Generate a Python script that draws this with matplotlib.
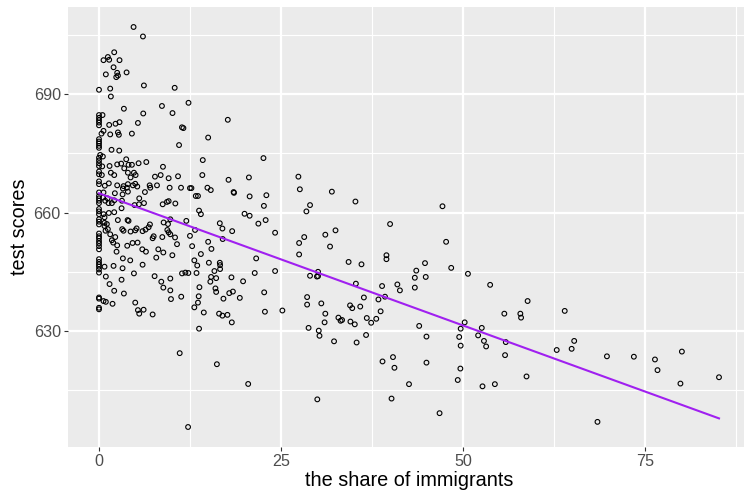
import numpy as np
import matplotlib
matplotlib.use("Agg")
import matplotlib.pyplot as plt
from matplotlib.ticker import FixedLocator

plt.rcParams['font.family'] = ['Liberation Sans', 'DejaVu Sans']

# share of immigrants (english learners, %)
english = [
    # left dense region, upper
    4.75, 6.04, 2.09, 1.22, 0.62, 1.40, 2.82, 2.00, 0.94, 3.79, 2.50, 2.60, 2.37, 0.0, 1.54,
    6.17, 10.4, 1.63, 3.42, 8.65, 6.08, 10.1, 0.0, 0.48, 0.0, 0.0, 0.0, 0.0, 1.40, 2.27,
    2.82, 5.35, 11.4, 11.6, 0.62, 0.34, 1.54, 2.60, 2.73, 4.52, 11.0, 0.0, 0.0, 0.0, 0.0,
    0.0, 1.72, 2.78, 0.16, 12.3,
    # x = 0 column, middle
    0.0, 0.0, 0.0, 0.0, 0.0, 0.0, 0.0, 0.0, 0.0, 0.0, 0.0, 0.0, 0.0, 0.0, 0.0,
    0.0, 0.0, 0.0, 0.0, 0.0, 0.0, 0.0, 0.0, 0.0, 0.0, 0.0, 0.0, 0.0, 0.0, 0.0,
    0.0, 0.0, 0.0,
    # left dense region, middle
    0.53, 0.44, 0.39, 0.80, 1.45, 1.63, 2.09, 2.50, 3.05, 3.74, 3.47, 3.97, 4.06, 4.52, 4.80,
    5.03, 4.34, 5.44, 6.50, 8.79, 7.69, 8.47, 9.57, 10.86, 1.35, 2.50, 3.37, 3.97, 3.83, 4.66,
    5.26, 4.98, 6.96, 7.05, 7.97, 9.71, 11.27, 3.28, 3.97, 6.31, 0.62, 0.53, 1.17, 0.85, 1.31,
    1.77, 2.18, 2.09, 3.24, 3.15, 4.89, 5.53, 5.49, 8.75, 9.34, 9.57, 10.49, 0.62, 0.76, 1.08,
    1.22, 1.35, 2.09, 3.10, 6.18, 2.59, 4.06, 3.93, 3.19, 3.37, 4.34, 4.98, 5.17, 5.99, 6.40,
    6.82, 7.00, 8.88, 9.48, 9.80, 9.39, 9.57, 9.80, 10.45, 10.72, 0.76, 0.76, 0.90, 1.54, 2.23,
    1.77, 1.95, 2.50, 2.41, 3.88, 4.61, 5.30, 5.95, 6.45, 7.37, 7.51, 8.70, 8.15, 8.84, 10.08,
    7.87, 3.28, 4.29, 5.99, 0.76, 2.00, 3.24, 4.80, 7.64, 0.94, 3.10, 1.45, 2.09, 3.42, 8.56,
    8.84, 9.80, 9.80, 11.41, 11.87,
    # left dense region, lower
    0.0, 0.0, 0.0, 0.62, 0.94, 1.86, 4.98, 5.35, 5.53, 6.13, 7.37, 9.89, 11.3, 11.09, 12.24,
    # 12-33 %, upper
    17.7, 15.0, 14.26, 22.6, 14.2, 17.8, 20.6, 27.4, 12.5, 12.7, 14.9, 15.36, 13.3, 13.6, 18.5,
    18.55, 20.7, 23.0, 27.6, 32.0, 22.66, 29.0, 28.5, 13.75, 14.0, 20.0, 20.7, 22.9, 21.9, 16.6,
    12.0,
    # 12-33 %, lower
    16.96, 18.3, 13.2, 12.5, 15.0, 17.0, 24.2, 12.8, 15.45, 14.0, 13.1, 13.5, 15.1, 16.6, 16.64,
    16.64, 15.86, 12.28, 13.4, 15.4, 16.1, 18.2, 15.3, 19.8, 21.4, 21.6, 24.2, 13.8, 16.0, 16.1,
    17.9, 18.4, 19.35, 22.7, 13.7, 17.1, 13.6, 13.1, 14.4, 16.5, 16.96, 17.65, 18.25, 22.8, 25.2,
    13.75, 16.2, 20.5,
    28.2, 27.5, 27.5, 31.1, 31.75, 32.5, 30.1, 30.1, 29.95, 29.0, 28.6, 28.6, 30.55, 31.1, 31.0,
    28.8, 30.2, 30.3, 32.3, 30.0,
    # 33-60 %
    35.24, 47.2, 40.0, 47.7, 39.5, 39.5, 34.3, 36.07, 44.8, 48.4, 43.6, 43.4, 44.9, 50.7, 53.75,
    35.3, 38.9, 41.0, 41.35, 43.4, 36.4, 39.3, 38.4, 58.9,
    34.5, 34.8, 35.9, 38.7, 32.9, 33.2, 33.4, 34.55, 35.15, 36.8, 37.4, 38.1, 35.4, 36.7, 44.0,
    45.0, 50.25, 49.7, 49.5, 49.7, 52.6, 52.1, 52.9, 53.2, 55.7, 57.9, 58.0, 55.9, 55.8, 58.75,
    38.96, 40.4, 40.6, 45.0, 42.6, 40.2, 46.8, 49.66, 49.3, 52.7, 54.4,
    # > 60 %
    64.0, 62.9, 64.95, 65.3, 69.8, 73.5, 76.4, 76.75, 80.1, 79.9, 85.2, 68.5,
]

# test scores
score = [
    707.0, 704.6, 700.6, 699.4, 698.6, 698.7, 698.6, 696.8, 695.0, 695.5, 695.4, 694.7, 694.3, 691.1, 691.4,
    692.2, 691.6, 689.4, 686.3, 687.0, 685.1, 685.2, 684.7, 684.7, 684.0, 683.4, 682.8, 682.1, 682.2, 682.5,
    682.9, 682.7, 681.6, 681.4, 680.7, 680.0, 679.8, 680.3, 679.7, 680.0, 677.1, 678.6, 678.0, 677.5, 676.9,
    676.4, 675.9, 675.7, 674.6, 687.8,
    673.9, 673.2, 672.5, 671.8, 670.4, 669.7, 667.9, 667.2, 665.1, 664.2, 663.6, 663.0, 662.4, 660.9, 660.3,
    659.6, 658.3, 657.7, 657.0, 654.7, 654.0, 653.5, 652.8, 652.2, 651.5, 650.7, 648.2, 647.5, 646.9, 646.3,
    645.6, 644.8, 638.5,
    674.2, 671.7, 669.5, 666.8, 671.8, 670.1, 669.5, 672.2, 672.4, 673.5, 671.2, 670.1, 672.1, 672.1, 670.1,
    669.5, 668.9, 672.5, 672.8, 671.6, 669.1, 669.5, 668.7, 669.2, 667.4, 666.9, 666.7, 667.2, 666.3, 666.9,
    666.6, 667.3, 666.9, 666.3, 666.9, 666.3, 666.3, 666.1, 665.3, 665.2, 665.1, 663.8, 663.6, 663.0, 662.4,
    662.4, 664.9, 663.1, 664.6, 663.0, 661.9, 663.6, 662.1, 662.1, 662.7, 662.9, 662.3, 659.6, 658.8, 657.1,
    655.8, 659.9, 660.1, 661.1, 662.4, 658.1, 657.9, 658.1, 655.8, 655.4, 655.2, 655.5, 656.0, 655.3, 655.7,
    656.3, 657.0, 657.5, 657.1, 658.3, 655.6, 655.0, 654.5, 653.7, 652.0, 657.4, 656.6, 655.4, 654.5, 653.8,
    653.0, 652.4, 651.7, 650.1, 651.6, 652.3, 652.4, 650.7, 650.1, 653.5, 654.0, 653.8, 650.7, 649.9, 649.2,
    648.6, 648.4, 647.9, 646.8, 646.3, 646.5, 645.9, 644.6, 643.9, 643.8, 643.0, 641.9, 640.2, 639.5, 642.5,
    641.0, 643.3, 640.3, 644.6, 644.8,
    638.2, 635.9, 635.5, 637.6, 637.4, 636.9, 637.2, 635.3, 634.4, 635.4, 634.2, 638.1, 638.7, 624.4, 605.7,
    683.5, 679.0, 673.3, 673.8, 669.5, 668.3, 668.9, 669.1, 666.2, 666.2, 666.3, 665.7, 664.2, 664.2, 665.2,
    665.0, 664.1, 664.4, 665.9, 665.3, 661.7, 661.9, 660.3, 660.5, 659.6, 659.7, 659.2, 658.1, 657.2, 657.3,
    657.9,
    655.96, 655.3, 655.6, 654.1, 652.6, 653.3, 654.9, 651.5, 650.8, 649.5, 647.9, 646.6, 647.3, 647.3, 646.7,
    645.7, 645.2, 644.7, 644.7, 643.7, 643.4, 643.6, 642.5, 642.6, 644.7, 648.4, 645.2, 641.1, 640.8, 639.9,
    639.6, 640.0, 638.4, 639.8, 638.8, 638.2, 637.2, 636.0, 634.7, 634.4, 633.9, 634.1, 632.2, 634.9, 635.2,
    630.6, 621.6, 616.6,
    653.8, 652.3, 649.4, 654.4, 651.4, 655.5, 645.0, 643.9, 643.8, 644.0, 638.6, 636.7, 637.0, 634.4, 632.2,
    630.8, 630.1, 628.8, 627.4, 612.7,
    662.8, 661.6, 657.1, 652.6, 649.2, 648.2, 647.5, 646.9, 647.2, 646.0, 645.3, 643.5, 643.7, 644.5, 641.7,
    642.0, 641.4, 641.8, 640.3, 641.0, 638.5, 638.7, 638.0, 637.6,
    636.5, 635.8, 636.2, 635.0, 633.4, 632.6, 632.8, 632.4, 631.7, 633.3, 632.1, 633.1, 627.1, 629.0, 631.3,
    628.6, 632.2, 630.6, 628.5, 626.3, 630.8, 628.9, 627.5, 626.1, 634.4, 634.4, 633.4, 627.2, 623.9, 618.5,
    622.3, 623.4, 620.7, 622.0, 616.55, 612.9, 609.2, 620.5, 617.6, 616.0, 616.55,
    635.1, 625.2, 625.5, 627.5, 623.6, 623.5, 622.8, 620.1, 624.8, 616.7, 618.3, 607.0,
]

x_ticks = [0, 25, 50, 75]
y_ticks = [630, 660, 690]
x_label = "the share of immigrants"
y_label = "test scores"

x = np.array(english)
y = np.array(score)

W, H = 744, 494
fig = plt.figure(figsize=(W / 100, H / 100), dpi=100)
ax = fig.add_axes([68 / W, 1 - 447 / H, 682 / W, 440 / H])

ax.set_facecolor("#EBEBEB")
for s in ax.spines.values():
    s.set_visible(False)

# limits with ggplot-like 5% expansion
xr = x.max() - x.min()
yr = y.max() - y.min()
ax.set_xlim(x.min() - 0.05 * xr, x.max() + 0.05 * xr)
ax.set_ylim(y.min() - 0.05 * yr, y.max() + 0.05 * yr)

ax.xaxis.set_major_locator(FixedLocator(x_ticks))
ax.yaxis.set_major_locator(FixedLocator(y_ticks))
ax.xaxis.set_minor_locator(FixedLocator([12.5, 37.5, 62.5, 87.5]))
ax.yaxis.set_minor_locator(FixedLocator([615, 645, 675, 705]))
ax.grid(which="major", color="white", linewidth=1.6)
ax.grid(which="minor", color="white", linewidth=0.8)
ax.set_axisbelow(True)

ax.tick_params(which="major", length=3.2, width=0.8, color="#333333",
               labelsize=11.6, labelcolor="#4D4D4D", pad=2.0)
ax.tick_params(which="minor", length=0)

ax.scatter(x, y, s=3.4 ** 2, facecolors="none", edgecolors="black",
           linewidths=0.8, zorder=3)

# linear fit (like geom_smooth(method = "lm", se = FALSE))
b, a = np.polyfit(x, y, 1)
xs = np.array([x.min(), x.max()])
ax.plot(xs, a + b * xs, color="#A020F0", linewidth=1.5, zorder=4)

ax.set_xlabel(x_label, fontsize=14.3, labelpad=1.5)
ax.set_ylabel(y_label, fontsize=14.3, labelpad=3)

fig.savefig("out.png", dpi=100)
